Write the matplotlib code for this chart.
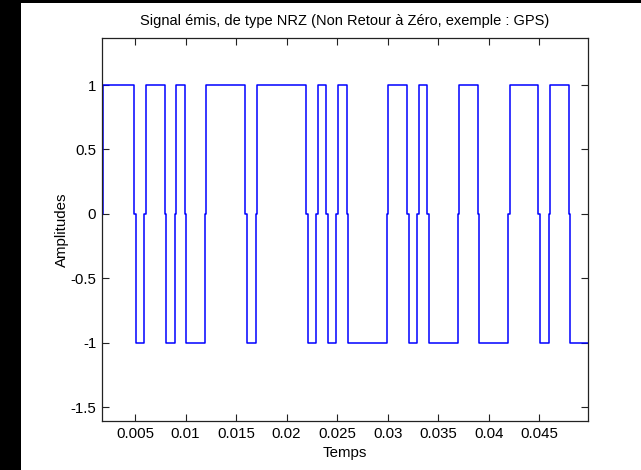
import matplotlib
matplotlib.use("Agg")
import matplotlib.pyplot as plt
from matplotlib.patches import Rectangle

# NRZ signal: level before the first edge, then it flips at each edge (seconds)
start_level = -1
t_start = 0.0015
t_end = 0.050
edges = [0.0018, 0.005, 0.006, 0.008, 0.009, 0.010, 0.012, 0.016, 0.017,
         0.022, 0.023, 0.024, 0.025, 0.026, 0.030, 0.032, 0.033, 0.034,
         0.037, 0.039, 0.042, 0.045, 0.046, 0.048]
half_zero = 0.00007  # short 0 sample at each transition

xticks = [0.005, 0.01, 0.015, 0.02, 0.025, 0.03, 0.035, 0.04, 0.045]
xtick_labels = ["0.005", "0.01", "0.015", "0.02", "0.025", "0.03", "0.035", "0.04", "0.045"]
yticks = [-1.5, -1, -0.5, 0, 0.5, 1]
ytick_labels = ["-1.5", "-1", "-0.5", "0", "0.5", "1"]


def nrz_wave(level, edges, t0, t1, h):
    t = [t0]
    y = [level]
    for e in edges:
        t += [e - h, e - h, e + h, e + h]
        y += [level, 0, 0, -level]
        level = -level
    t.append(t1)
    y.append(level)
    return t, y


plt.rcParams['font.family'] = ['Liberation Sans', 'DejaVu Sans']
plt.rcParams['font.size'] = 10.8

fig = plt.figure(figsize=(6.41, 4.70), dpi=100)
fig.patch.set_facecolor('white')
# black borders of the screenshot
fig.patches.append(Rectangle((0, 0), 20.5 / 641, 1, transform=fig.transFigure,
                             facecolor='black', edgecolor='none', zorder=-1))
fig.patches.append(Rectangle((0, 1 - 2.5 / 470), 1, 2.5 / 470, transform=fig.transFigure,
                             facecolor='black', edgecolor='none', zorder=-1))

ax = fig.add_axes([101.7 / 641, 49 / 470, 486 / 641, 383 / 470])
t, y = nrz_wave(start_level, edges, t_start, t_end, half_zero)
ax.plot(t, y, color='#0000ff', lw=1.1)

ax.set_xlim(0.0017, 0.0498)
ax.set_ylim(-1.607, 1.365)
ax.set_xticks(xticks)
ax.set_xticklabels(xtick_labels)
ax.set_yticks(yticks)
ax.set_yticklabels(ytick_labels)
ax.tick_params(direction='in', length=5, width=0.8, top=True, right=True,
               colors='#222222', labelcolor='black', pad=4)
for spine in ax.spines.values():
    spine.set_color('#222222')
    spine.set_linewidth(0.9)

ax.set_title('Signal émis, de type NRZ (Non Retour à Zéro, exemple : GPS)', fontsize=10.5, pad=9)
ax.set_xlabel('Temps', labelpad=4)
ax.set_ylabel('Amplitudes', labelpad=1)

fig.savefig('out.png', dpi=100)
